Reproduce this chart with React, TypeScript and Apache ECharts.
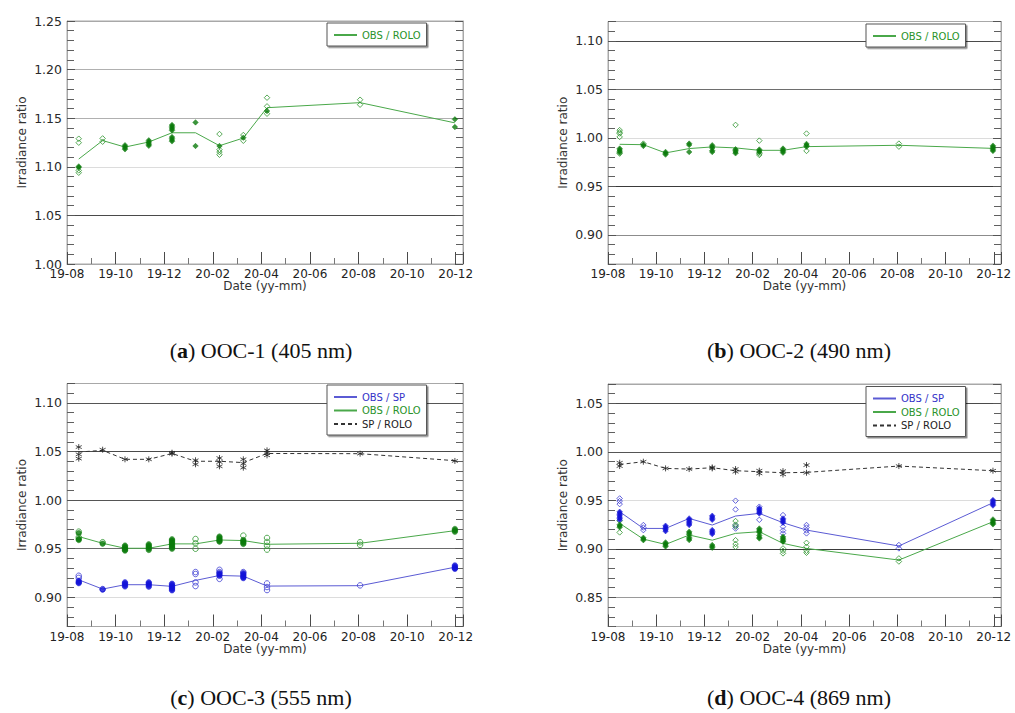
import React, { useEffect, useRef } from 'react';
import * as echarts from 'echarts';

// Lunar observation dates shared by all four channels
const obsDates = [
  '2019-08-16', '2019-09-15', '2019-10-13', '2019-11-12', '2019-12-11', '2020-01-10',
  '2020-02-09', '2020-03-09', '2020-04-08', '2020-08-03', '2020-11-30',
];

// x-axis tick labels, one every two months starting at 2019-08
const dateTickLabels = ['19-08', '19-10', '19-12', '20-02', '20-04', '20-06', '20-08', '20-10', '20-12'];

// ---- OOC-1 (405 nm) ----
const ooc1RoloMean = [1.108, 1.127, 1.1203, 1.1255, 1.135, 1.135, 1.1217, 1.1296, 1.1608, 1.166, 1.1452];
const ooc1RoloOpen = [
  [1.1289, 1.1248, 1.0963, 1.0939], [1.1292, 1.1258], [], [], [], [],
  [1.1337, 1.1176, 1.1152, 1.1124], [1.1327, 1.1268], [1.1711, 1.1622, 1.1546], [1.169, 1.1639], [],
];
const ooc1RoloDense = [
  [1.1004, 1.0992], [], [1.1222, 1.1208, 1.1194, 1.118], [1.1272, 1.1258, 1.1244, 1.123, 1.1216],
  [1.143, 1.1416, 1.1402, 1.1388, 1.1374, 1.1306, 1.1292, 1.1276, 1.1262], [1.1457, 1.1214],
  [1.1214], [1.13], [1.1574], [], [1.1488, 1.1409],
];

// ---- OOC-2 (490 nm) ----
const ooc2RoloMean = [0.9934, 0.993, 0.9845, 0.989, 0.9907, 0.9897, 0.9872, 0.9872, 0.991, 0.9924, 0.9892];
const ooc2RoloOpen = [
  [1.008, 1.0059, 1.0045, 1.001, 0.9838], [0.9941], [], [], [], [1.0134],
  [0.9972, 0.9838, 0.9824], [], [1.0045, 0.9866], [0.9941, 0.991], [],
];
const ooc2RoloDense = [
  [0.989, 0.9876, 0.9862, 0.9848], [0.9931, 0.9917], [0.9855, 0.9841, 0.9828], [0.9941, 0.9927, 0.9855],
  [0.9924, 0.991, 0.9896, 0.9869, 0.9855], [0.9883, 0.9869, 0.9855, 0.9841], [0.988, 0.9866, 0.9852],
  [0.989, 0.9876, 0.9862, 0.9848], [0.9938, 0.9924, 0.991], [], [0.992, 0.9906, 0.9892, 0.9878, 0.9866],
];

// ---- OOC-3 (555 nm) ----
const ooc3SpRoloMean = [1.0495, 1.0512, 1.042, 1.042, 1.048, 1.04, 1.04, 1.0386, 1.048, 1.0478, 1.0406];
const ooc3SpRoloPts = [
  [1.0546, 1.0471, 1.0427], [1.0519], [1.042], [1.042], [1.0488, 1.0478], [1.041, 1.0369],
  [1.0433, 1.0392, 1.0348], [1.042, 1.0375, 1.0334], [1.0512, 1.0485, 1.0461], [1.0478], [1.0403],
];
const ooc3RoloMean = [0.9625, 0.9556, 0.9505, 0.9505, 0.955, 0.955, 0.959, 0.9584, 0.9546, 0.9556, 0.9686];
const ooc3RoloOpen = [
  [0.9676, 0.9618], [0.9567], [], [], [], [0.96, 0.9556, 0.95], [], [0.9635],
  [0.9611, 0.957, 0.953, 0.9491], [0.9567, 0.954], [],
];
const ooc3RoloDense = [
  [0.966, 0.96, 0.959], [0.9552], [0.9532, 0.9518, 0.9504, 0.949, 0.9481], [0.9546, 0.9532, 0.9518, 0.9504, 0.9488],
  [0.9597, 0.9583, 0.9569, 0.9555, 0.9541, 0.9527, 0.9513, 0.95], [], [0.9625, 0.9611, 0.9597, 0.9583, 0.9573],
  [0.959, 0.9576, 0.9562, 0.955], [], [], [0.9703, 0.9689, 0.9675],
];
const ooc3SpMean = [0.918, 0.9085, 0.913, 0.913, 0.9113, 0.9174, 0.9225, 0.9218, 0.9116, 0.912, 0.931];
const ooc3SpOpen = [
  [0.9222, 0.92], [0.9085], [], [], [], [0.926, 0.924, 0.9154, 0.9116], [0.9283, 0.926, 0.919], [0.926],
  [0.9143, 0.9106, 0.9075], [0.9123], [],
];
const ooc3SpDense = [
  [0.917, 0.9156, 0.9146], [0.908], [0.9154, 0.914, 0.9126, 0.9112], [0.9154, 0.914, 0.9126, 0.911],
  [0.914, 0.9126, 0.9112, 0.9098, 0.9086, 0.9072], [], [0.925, 0.9236, 0.9222],
  [0.925, 0.9236, 0.9222, 0.9208, 0.9198], [], [], [0.9328, 0.9314, 0.93, 0.9294],
];

// ---- OOC-4 (869 nm) ----
const ooc4SpRoloMean = [0.987, 0.9899, 0.983, 0.9823, 0.9837, 0.9806, 0.9796, 0.9785, 0.9789, 0.9854, 0.9806];
const ooc4SpRoloPts = [
  [0.9888, 0.9854], [0.9899], [0.983], [0.9823], [0.984, 0.983], [0.9823, 0.9796], [0.9806, 0.9778],
  [0.9802, 0.9768], [0.9864, 0.9785], [0.9854], [0.9806],
];
const ooc4SpMean = [0.9383, 0.9211, 0.9211, 0.9314, 0.9246, 0.9339, 0.9366, 0.927, 0.9194, 0.903, 0.9476];
const ooc4SpOpen = [
  [0.952, 0.9493, 0.9462], [0.9246, 0.922, 0.9194], [], [], [], [0.9497, 0.9407, 0.924, 0.921],
  [0.9435, 0.93], [0.9349, 0.9229, 0.919, 0.916], [0.9246, 0.922, 0.919, 0.916], [0.904, 0.9005], [],
];
const ooc4SpDense = [
  [0.9383, 0.9369, 0.9355, 0.9341, 0.9327, 0.9313, 0.9297], [], [0.9239, 0.9225, 0.9211, 0.9197, 0.9183],
  [0.9314, 0.93, 0.9286, 0.9272, 0.9258, 0.9246], [0.9342, 0.9328, 0.9314, 0.93, 0.9194, 0.918, 0.9166, 0.9153],
  [], [0.942, 0.9406, 0.9392, 0.9378, 0.9364], [0.9314, 0.93, 0.9286, 0.927], [], [],
  [0.9503, 0.9489, 0.9475, 0.9461, 0.9447],
];
const ooc4RoloMean = [0.9263, 0.9101, 0.9046, 0.9143, 0.909, 0.916, 0.9177, 0.9057, 0.9005, 0.8885, 0.928];
const ooc4RoloOpen = [
  [0.929, 0.917], [], [], [], [], [0.9287, 0.925, 0.9229, 0.909, 0.905, 0.902], [],
  [0.9005, 0.898, 0.8954], [0.9063, 0.9022, 0.898, 0.896], [0.8902, 0.887], [],
];
const ooc4RoloDense = [
  [0.925, 0.9236, 0.9222], [0.9115, 0.9101, 0.909], [0.9067, 0.9053, 0.9039, 0.9025],
  [0.9177, 0.9163, 0.9149, 0.912, 0.9105, 0.9091], [0.904, 0.9026, 0.9012], [],
  [0.921, 0.9196, 0.9182, 0.9168, 0.914, 0.912, 0.9108], [0.9125, 0.9111, 0.9097, 0.9083, 0.9074], [], [],
  [0.9304, 0.929, 0.9276, 0.9262, 0.9253],
];

// Month offset from 2019-08-01 (fraction of the month included)
function monthOffset(d: string): number {
  const [y, m, day] = d.split('-').map(Number);
  const days = new Date(Date.UTC(y, m, 0)).getUTCDate();
  return (y - 2019) * 12 + (m - 8) + (day - 1) / days;
}
const obsX = obsDates.map(monthOffset);

const FRAME = '#a8a8a8';
const FONT = 'DejaVu Sans';
const STAR = 'path://M5,0L5,10M0.7,2.5L9.3,7.5M0.7,7.5L9.3,2.5';

const STYLES: Record<string, any> = {
  sp: { line: '#5b5bd4', lineType: 'solid', open: '#3b3bd2', dense: '#1212d8', text: '#3434c8' },
  rolo: { line: '#4aa84a', lineType: 'solid', open: '#2e952e', dense: '#0b7b0b', text: '#2a932a' },
  spRolo: { line: '#333333', lineType: [4, 3], open: '#222222', dense: '#222222', text: '#222222' },
};

type Group = { key: string; name: string; mean: number[]; open: number[][]; dense: number[][] };

const panels: any[] = [
  {
    box: [67, 21, 396, 243], yMin: 1.0, yMax: 1.25, edgeLabels: true, marker: 'diamond',
    shades: [FRAME, '#4a4a4a', '#dcdcdc', '#b0b0b0', '#b0b0b0', FRAME],
    legend: [327, 23],
    groups: [
      { key: 'rolo', name: 'OBS / ROLO', mean: ooc1RoloMean, open: ooc1RoloOpen, dense: ooc1RoloDense },
    ] as Group[],
  },
  {
    box: [608, 21.5, 393, 242.5], yMin: 0.87, yMax: 1.12, edgeLabels: false, marker: 'diamond',
    shades: [FRAME, '#8c8c8c', '#3a3a3a', '#dcdcdc', '#6e6e6e', '#4a4a4a', FRAME],
    legend: [866, 24],
    groups: [
      { key: 'rolo', name: 'OBS / ROLO', mean: ooc2RoloMean, open: ooc2RoloOpen, dense: ooc2RoloDense },
    ] as Group[],
  },
  {
    box: [67, 383.5, 396, 243], yMin: 0.87, yMax: 1.12, edgeLabels: false, marker: 'circle',
    shades: [FRAME, '#dcdcdc', '#6a6a6a', '#555555', '#4a4a4a', '#555555', FRAME],
    legend: [327, 385],
    groups: [
      { key: 'sp', name: 'OBS / SP', mean: ooc3SpMean, open: ooc3SpOpen, dense: ooc3SpDense },
      { key: 'rolo', name: 'OBS / ROLO', mean: ooc3RoloMean, open: ooc3RoloOpen, dense: ooc3RoloDense },
      { key: 'spRolo', name: 'SP / ROLO', mean: ooc3SpRoloMean, open: ooc3SpRoloPts, dense: [] },
    ] as Group[],
  },
  {
    box: [608, 384, 393, 242.5], yMin: 0.82, yMax: 1.07, edgeLabels: false, marker: 'diamond',
    shades: [FRAME, '#9a9a9a', '#3a3a3a', '#dcdcdc', '#555555', '#4a4a4a', FRAME],
    legend: [866, 386.5],
    groups: [
      { key: 'sp', name: 'OBS / SP', mean: ooc4SpMean, open: ooc4SpOpen, dense: ooc4SpDense },
      { key: 'rolo', name: 'OBS / ROLO', mean: ooc4RoloMean, open: ooc4RoloOpen, dense: ooc4RoloDense },
      { key: 'spRolo', name: 'SP / ROLO', mean: ooc4SpRoloMean, open: ooc4SpRoloPts, dense: [] },
    ] as Group[],
  },
];

const captions = [
  { tag: 'a', text: 'OOC-1 (405 nm)', x: 261, y: 350 },
  { tag: 'b', text: 'OOC-2 (490 nm)', x: 799, y: 350 },
  { tag: 'c', text: 'OOC-3 (555 nm)', x: 261, y: 697 },
  { tag: 'd', text: 'OOC-4 (869 nm)', x: 799, y: 697 },
];

function toPoints(groups: number[][]): number[][] {
  return groups.flatMap((vals, i) => vals.map((v) => [obsX[i], v]));
}

function dateLabel(v: number): string {
  if (Number.isInteger(v) && v % 2 === 0) return dateTickLabels[v / 2] ?? '';
  return '';
}

function buildOption() {
  const grid: any[] = [];
  const xAxis: any[] = [];
  const yAxis: any[] = [];
  const series: any[] = [];
  const legend: any[] = [];

  panels.forEach((p, i) => {
    grid.push({
      left: p.box[0], top: p.box[1], width: p.box[2], height: p.box[3],
      show: true, borderColor: FRAME, borderWidth: 1, backgroundColor: 'rgba(0,0,0,0)',
      containLabel: false, outerBoundsMode: 'none',
    });
    xAxis.push({
      type: 'value', gridIndex: i, min: 0, max: 16.3, interval: 2,
      axisLine: { show: true, onZero: false, lineStyle: { color: FRAME } },
      axisTick: { show: true, inside: true, length: 12, lineStyle: { color: '#4a4a4a' } },
      minorTick: { show: true, splitNumber: 2, length: 6, lineStyle: { color: '#777' } },
      axisLabel: {
        margin: 4, fontSize: 12, color: '#222', fontFamily: FONT, formatter: dateLabel,
        showMaxLabel: false,
      },
      splitLine: { show: false },
      name: 'Date (yy-mm)', nameLocation: 'middle', nameGap: 16, nameMoveOverlap: false,
      nameTextStyle: { fontSize: 12, color: '#333', fontFamily: FONT },
    });
    const yCommon = {
      type: 'value', gridIndex: i, min: p.yMin, max: p.yMax, splitNumber: 5,
      minInterval: 0.05, maxInterval: 0.05,
    };
    yAxis.push({
      ...yCommon, position: 'left',
      axisLine: { show: true, onZero: false, lineStyle: { color: FRAME } },
      axisTick: { show: true, inside: true, length: 8, lineStyle: { color: '#555' } },
      minorTick: { show: true, splitNumber: 5, length: 7, lineStyle: { color: '#606060' } },
      axisLabel: {
        margin: 5, fontSize: 12.5, color: '#2a2a2a', fontFamily: FONT,
        formatter: (v: number) => v.toFixed(2),
        showMinLabel: p.edgeLabels, showMaxLabel: p.edgeLabels,
      },
      splitLine: { show: true, lineStyle: { color: p.shades, width: 1 } },
      name: 'Irradiance ratio', nameLocation: 'middle', nameGap: 39, nameMoveOverlap: false,
      nameTextStyle: { fontSize: 12, color: '#333', fontFamily: FONT },
    });
    yAxis.push({
      ...yCommon, position: 'right',
      axisLine: { show: true, onZero: false, lineStyle: { color: FRAME } },
      axisTick: { show: true, inside: true, length: 8, lineStyle: { color: '#555' } },
      minorTick: { show: true, splitNumber: 5, length: 7, lineStyle: { color: '#606060' } },
      axisLabel: { show: false },
      splitLine: { show: false },
    });

    p.groups.forEach((g: Group) => {
      const st = STYLES[g.key];
      const isStar = g.key === 'spRolo';
      series.push({
        type: 'line', name: g.name, xAxisIndex: i, yAxisIndex: 2 * i,
        data: obsX.map((x, k) => [x, g.mean[k]]),
        symbol: 'none', silent: true, z: 2,
        lineStyle: { color: st.line, width: 1, type: st.lineType },
        itemStyle: { color: st.line },
      });
      series.push({
        type: 'scatter', name: g.name + ' obs', xAxisIndex: i, yAxisIndex: 2 * i,
        data: toPoints(g.open), silent: true, z: 3,
        symbol: isStar ? STAR : p.marker, symbolSize: isStar ? 6 : 5.5,
        itemStyle: { color: 'rgba(0,0,0,0)', borderColor: st.open, borderWidth: 1 },
      });
      if (g.dense.some((d) => d.length)) {
        series.push({
          type: 'scatter', name: g.name + ' obs dense', xAxisIndex: i, yAxisIndex: 2 * i,
          data: toPoints(g.dense), silent: true, z: 4,
          symbol: p.marker, symbolSize: 5.5,
          itemStyle: { color: st.dense, borderColor: st.dense, borderWidth: 0.6 },
        });
      }
    });

    legend.push({
      orient: 'vertical', left: p.legend[0], top: p.legend[1],
      itemWidth: 23, itemHeight: 12, itemGap: 3.5,
      padding: [7, 6, 6, 6],
      borderColor: '#555', borderWidth: 1, backgroundColor: '#fff',
      shadowColor: 'rgba(0,0,0,0.45)', shadowOffsetX: 1.5, shadowOffsetY: 1.5, shadowBlur: 0,
      selectedMode: false,
      // the legend keys are plain line samples, no marker
      itemStyle: { opacity: 0 },
      textStyle: { fontSize: 10, fontFamily: FONT },
      data: p.groups.map((g: Group) => ({
        name: g.name, textStyle: { color: STYLES[g.key].text },
      })),
    });
  });

  const graphic = captions.map((c) => ({
    type: 'text', x: c.x, y: c.y, silent: true,
    style: {
      text: `{n|(}{b|${c.tag}}{n|) ${c.text}}`,
      align: 'center', verticalAlign: 'middle',
      rich: {
        n: { fontFamily: 'Liberation Serif', fontSize: 22, fill: '#111' },
        b: { fontFamily: 'Liberation Serif', fontSize: 22, fontWeight: 'bold', fill: '#111' },
      },
    },
  }));

  return {
    animation: false,
    backgroundColor: '#fff',
    textStyle: { fontFamily: FONT },
    grid, xAxis, yAxis, series, legend, graphic,
  };
}

export default function App() {
  const ref = useRef<HTMLDivElement>(null);
  useEffect(() => {
    if (!ref.current) return;
    const chart = echarts.init(ref.current, undefined, { renderer: 'svg' });
    chart.setOption(buildOption() as any);
    return () => chart.dispose();
  }, []);
  return (
    <div
      ref={ref}
      style={{ position: 'absolute', left: 0, top: 0, width: 1015, height: 713, background: '#fff' }}
    />
  );
}
